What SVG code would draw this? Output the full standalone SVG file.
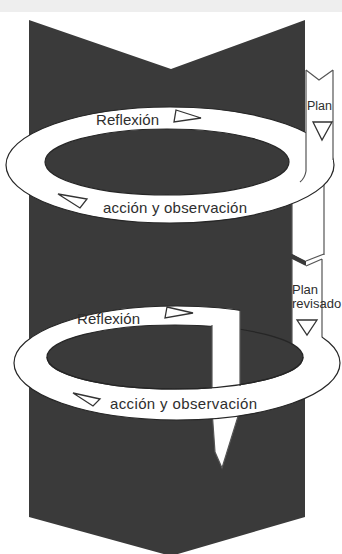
<svg xmlns="http://www.w3.org/2000/svg" width="342" height="554" viewBox="0 0 342 554">
<style>
.dark{fill:#3a3a3a}
.band{fill:#ffffff;stroke:#262626;stroke-width:1.2}
.hole{fill:#3a3a3a;stroke:#262626;stroke-width:1.2}
.wfill{fill:#ffffff}
.edge{fill:none;stroke:#555555;stroke-width:1.2}
.arrow{fill:#ffffff;stroke:#333333;stroke-width:1.3;stroke-linejoin:miter}
.lbl{font-family:"Liberation Sans",Arial,sans-serif;fill:#2e2e2e}
</style>
<rect x="0" y="0" width="342" height="554" fill="#ffffff"/>
<rect x="0" y="0" width="342" height="12" fill="#eeeeee"/>

<g id="chevron">
<polygon class="dark" points="29,20 171,69 305,20 305,517 171,556 29,517"/>
</g>

<!-- top cycle -->
<g id="exit-strip-1">
<polygon class="wfill" points="292,160 324,160 324,255 306,262 292,254"/>
<path class="edge" d="M292,160 V254 M324,160 V255"/>
<polygon class="dark" points="292,254 306,261 306,266 292,259"/>
<path class="edge" d="M306,261 L324,254"/>
</g>
<g id="ring-1">
<ellipse class="band" cx="170" cy="165" rx="164" ry="58"/>
<ellipse class="hole" cx="167" cy="162" rx="122" ry="33"/>
</g>
<g id="plan-strip-1">
<path class="wfill" d="M306,70 L319,80 L333,70 V163 Q325,172 306,174 Z"/>
<path class="edge" d="M306,70 L319,80 L333,70 M306,70 V171 Q305,178 300,182 M333,70 V160"/>
</g>

<!-- bottom cycle -->
<g id="down-end">
<polygon class="wfill" points="212,410 240,410 222,468 215,452"/>
<path class="edge" d="M212,410 L215,452 L222,468 L240,410"/>
</g>
<g id="ring-2">
<ellipse class="band" cx="177" cy="363" rx="163" ry="57"/>
<rect class="dark" x="240" y="296" width="53" height="60"/>
</g>
<g id="plan-strip-2">
<path class="wfill" d="M292,259 L306,266 L322,259 V337 Q310,348 292,350 Z"/>
<path class="edge" d="M306,266 L322,259 M292,259 V346 M322,259 V337"/>
</g>
<g id="ring-2-hole">
<ellipse class="hole" cx="175" cy="357" rx="128" ry="32"/>
</g>
<g id="down-strip">
<rect class="wfill" x="212" y="312" width="28" height="78"/>
<path class="edge" d="M212,325 V388 M240,311 V386"/>
<path fill="none" stroke="#262626" stroke-width="1.2" d="M47,357 A128,32 0 0 0 303,357"/>
</g>

<g id="connectors">
<polygon class="arrow" points="176,110 201,118 174,122"/>
<polygon class="arrow" points="58,194 87,199 80,208"/>
<polygon class="arrow" points="313,122 332,122 322,140"/>
<polygon class="arrow" points="167,307 193,313 165,318"/>
<polygon class="arrow" points="73,393 100,399 93,406"/>
<polygon class="arrow" points="297,320 317,320 307,335"/>
</g>

<g id="labels">
<text class="lbl" x="96" y="125" font-size="15" textLength="63">Reflexión</text>
<text class="lbl" x="103" y="213" font-size="15" textLength="144">acción y observación</text>
<text class="lbl" x="307" y="110" font-size="12.5">Plan</text>
<text class="lbl" x="292" y="294" font-size="13">Plan</text>
<text class="lbl" x="292" y="308" font-size="13">revisado</text>
<text class="lbl" x="77" y="324" font-size="15" textLength="63">Reflexión</text>
<text class="lbl" x="110" y="409" font-size="15" textLength="147">acción y observación</text>
</g>
</svg>
